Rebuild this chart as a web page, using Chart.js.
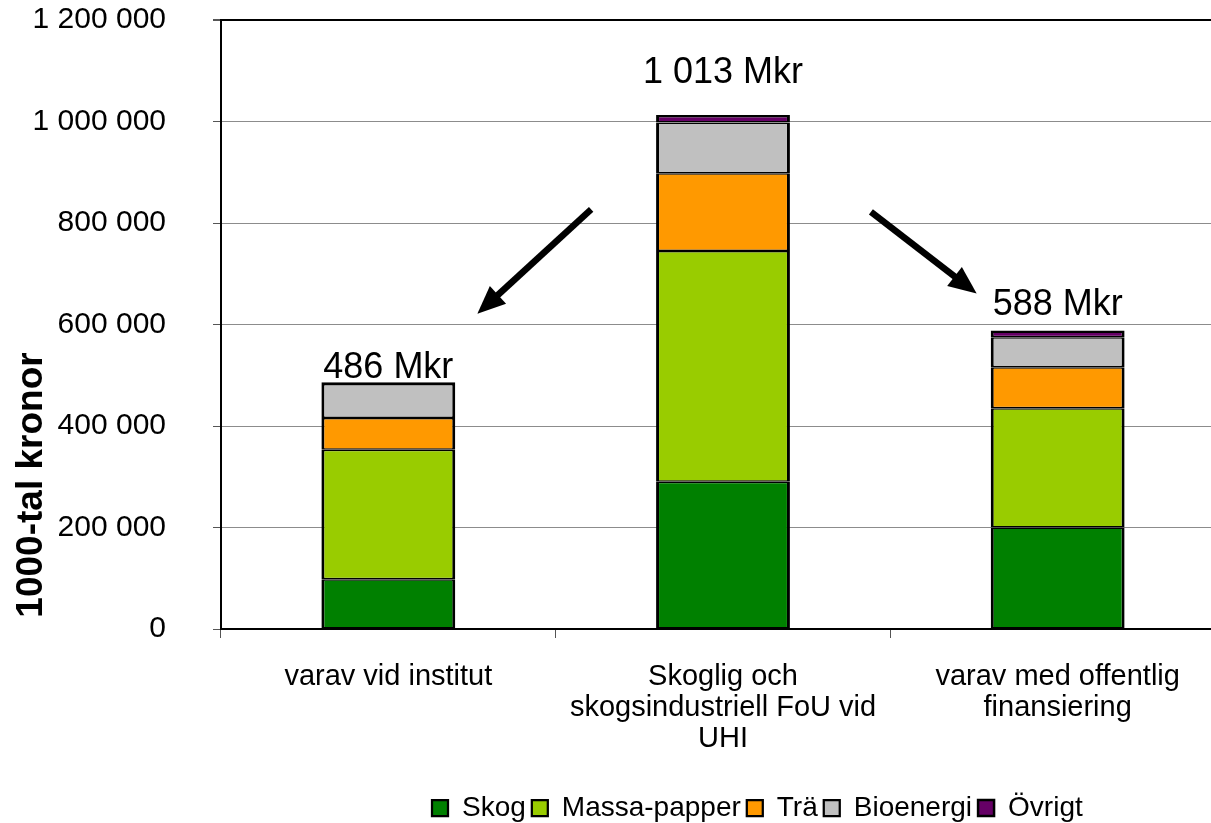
<!DOCTYPE html>
<html>
<head>
<meta charset="utf-8">
<script src="https://cdn.jsdelivr.net/npm/chart.js@4/dist/chart.umd.min.js"></script>
<style>
  html, body { margin: 0; padding: 0; background: #fff; overflow: hidden; }
  #wrap { width: 1236px; height: 823px; }
</style>
</head>
<body>
<div id="wrap"><canvas id="myChart" width="1236" height="823"></canvas></div>
<script>
// categories and series (1000-tal kronor)
const categories = [
  ['varav vid institut'],
  ['Skoglig och', 'skogsindustriell FoU vid', 'UHI'],
  ['varav med offentlig', 'finansiering']
];
const skog        = [98000, 290000, 200000];
const massaPapper = [255000, 455000, 235000];
const tra         = [63000, 153000, 81000];
const bioenergi   = [67000, 100000, 59000];
const ovrigt      = [3000, 15000, 13000];
const totalLabels = ['486 Mkr', '1 013 Mkr', '588 Mkr'];
const yTicks = [0, 200000, 400000, 600000, 800000, 1000000, 1200000];

// where the total labels sit above each bar (value units) and the two arrows
const labelLift = [8000, 62000, 31000];
const arrows = [
  { from: [0.606, 827000], to: [0.266, 621000] },
  { from: [1.442, 822000], to: [1.758, 661000] }
];

const FONT = "'Liberation Sans', Arial, sans-serif";
const fmt = v => String(v).replace(/\B(?=(\d{3})+(?!\d))/g, ' ');

const ds = (label, data, color, top) => ({
  label: label,
  data: data,
  backgroundColor: color,
  borderColor: '#000',
  borderWidth: { top: top || 1.5, bottom: 1.5, left: 3, right: 3 },
  borderSkipped: false,
  inflateAmount: 0,
  barPercentage: 0.4,
  categoryPercentage: 1
});

const extras = {
  id: 'extras',
  afterLayout(chart) {
    // move the legend to where the original has it
    const L = chart.legend;
    const w = L.right - L.left;
    L.left = 432 - 6;
    L.right = L.left + w;
    L.top += 9;
    L.bottom += 9;
  },
  afterDatasetsDraw(chart) {
    const ctx = chart.ctx;
    const x = chart.scales.x, y = chart.scales.y;
    ctx.save();
    // totals above bars
    ctx.fillStyle = '#000';
    ctx.font = '36px ' + FONT;
    ctx.textAlign = 'center';
    ctx.textBaseline = 'alphabetic';
    totalLabels.forEach((t, i) => {
      const total = skog[i] + massaPapper[i] + tra[i] + bioenergi[i] + ovrigt[i];
      ctx.fillText(t, x.getPixelForValue(i), y.getPixelForValue(total + labelLift[i]));
    });
    // arrows
    arrows.forEach(a => {
      const x1 = x.getPixelForValue(a.from[0]), y1 = y.getPixelForValue(a.from[1]);
      const x2 = x.getPixelForValue(a.to[0]), y2 = y.getPixelForValue(a.to[1]);
      const ang = Math.atan2(y2 - y1, x2 - x1);
      const head = 28, half = 12;
      const bx = x2 - head * Math.cos(ang), by = y2 - head * Math.sin(ang);
      ctx.strokeStyle = '#000';
      ctx.lineWidth = 6.5;
      ctx.beginPath();
      ctx.moveTo(x1, y1);
      ctx.lineTo(bx + 2 * Math.cos(ang), by + 2 * Math.sin(ang));
      ctx.stroke();
      ctx.beginPath();
      ctx.moveTo(x2, y2);
      ctx.lineTo(bx + half * Math.sin(ang), by - half * Math.cos(ang));
      ctx.lineTo(bx - half * Math.sin(ang), by + half * Math.cos(ang));
      ctx.closePath();
      ctx.fill();
    });
    // y axis title
    ctx.font = 'bold 37px ' + FONT;
    ctx.textBaseline = 'middle';
    ctx.translate(32, 485);
    ctx.rotate(-Math.PI / 2);
    ctx.fillText('1000-tal kronor', 0, 0);
    ctx.restore();
  }
};

const ctx = document.getElementById('myChart');
new Chart(ctx, {
  type: 'bar',
  data: {
    labels: categories,
    datasets: [
      ds('Skog', skog, '#008000'),
      ds('Massa-papper', massaPapper, '#99CC00'),
      ds('Trä', tra, '#FF9900'),
      ds('Bioenergi', bioenergi, '#C0C0C0'),
      ds('Övrigt', ovrigt, '#660066', 2.5)
    ]
  },
  options: {
    responsive: false,
    animation: false,
    layout: { padding: { top: 20, right: 11, left: 0, bottom: 0 } },
    scales: {
      x: {
        stacked: true,
        grid: { drawOnChartArea: false, drawTicks: true, tickLength: 9, color: '#555', offset: true },
        border: { display: true, color: '#000', width: 2 },
        ticks: {
          color: '#000',
          font: { family: FONT, size: 29, lineHeight: 1.07 },
          padding: 23,
          maxRotation: 0,
          autoSkip: false
        },
        afterFit: s => {
          s.height = 823 - 629 - s.chart.legend.height;
          s.paddingLeft = 0;
          s.paddingRight = 0;
        }
      },
      y: {
        stacked: true,
        min: 0,
        max: 1200000,
        afterBuildTicks: s => { s.ticks = yTicks.map(v => ({ value: v })); },
        grid: {
          color: c => c.tick && c.tick.value === 1200000 ? '#000' : '#8c8c8c',
          lineWidth: c => c.tick && c.tick.value === 1200000 ? 2 : 1,
          tickColor: '#555',
          tickLength: 8
        },
        border: { display: true, color: '#000', width: 2 },
        ticks: {
          color: '#000',
          font: { family: FONT, size: 30 },
          padding: 47,
          callback: v => fmt(v)
        },
        afterFit: s => {
          s.width = 221;
          s.paddingTop = 0;
          s.paddingBottom = 0;
        }
      }
    },
    plugins: {
      legend: {
        position: 'bottom',
        align: 'start',
        labels: {
          color: '#000',
          font: { family: FONT, size: 28 },
          boxWidth: 16,
          boxHeight: 16,
          padding: 6,
          useBorderRadius: false
        }
      },
      tooltip: { enabled: false }
    }
  },
  plugins: [extras]
});
</script>
</body>
</html>
